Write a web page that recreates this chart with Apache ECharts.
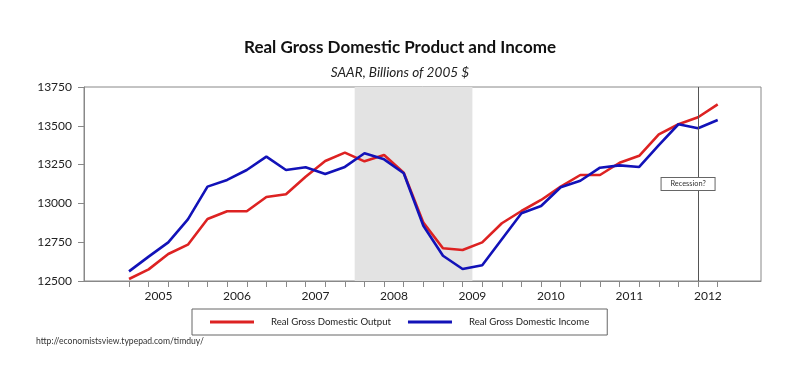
<!DOCTYPE html>
<html>
<head>
<meta charset="utf-8">
<script src="https://cdn.jsdelivr.net/npm/echarts@6/dist/echarts.min.js"></script>
<style>
html,body{margin:0;padding:0;background:#fff;}
#chart{width:800px;height:386px;}
</style>
</head>
<body>
<div id="chart"></div>
<script>
// Quarterly data 2005Q1 .. 2012Q3 (quarter index 0..30)
var quarterIndex = [0,1,2,3,4,5,6,7,8,9,10,11,12,13,14,15,16,17,18,19,20,21,22,23,24,25,26,27,28,29,30];
var gdpOutput = [12513,12575,12674,12734,12899,12949,12949,13041,13059,13172,13273,13327,13271,13312,13198,12876,12711,12700,12749,12872,12951,13022,13108,13183,13183,13262,13307,13445,13510,13555,13638];
var gdpIncome = [12562,12657,12749,12897,13108,13151,13215,13301,13215,13233,13189,13235,13323,13284,13194,12856,12663,12577,12601,12769,12936,12983,13104,13146,13230,13245,13235,13376,13510,13484,13537];
var yearLabels = ['2005','2006','2007','2008','2009','2010','2011','2012'];
var yearLabelPos = [1.5,5.5,9.5,13.5,17.5,21.5,25.5,29.5];
var yTicks = [12500,12750,13000,13250,13500,13750];
var recessionRange = [11.5, 17.5];
var markerQuarter = 29;

function pairs(xs, ys){ return xs.map(function(x,i){ return [x, ys[i]]; }); }

var chart = echarts.init(document.getElementById('chart'), null, {renderer:'canvas'});
var FONT = 'Lato';
var option = {
  animation: false,
  backgroundColor: '#fff',
  title: [
    {text: 'Real Gross Domestic Product and Income', left: 'center', top: 39, padding: 0,
     textStyle: {fontFamily: FONT, fontSize: 17, fontWeight: 'bold', color: '#111'}},
    {text: 'SAAR, Billions of 2005 $', left: 'center', top: 66, padding: 0,
     textStyle: {fontFamily: FONT, fontSize: 13.6, fontStyle: 'italic', fontWeight: 'normal', color: '#222'}},
    {text: 'http://economistsview.typepad.com/timduy/', left: 36, top: 337, padding: 0,
     textStyle: {fontFamily: FONT, fontSize: 8.6, fontWeight: 'normal', color: '#333'}}
  ],
  grid: {left: 84, right: 39, top: 87, bottom: 105, show: true, borderColor: '#888', borderWidth: 1},
  legend: {
    data: ['Real Gross Domestic Output', 'Real Gross Domestic Income'],
    left: 192, top: 309,
    padding: [8, 18],
    itemGap: 17,
    itemWidth: 44, itemHeight: 3,
    icon: 'rect',
    borderColor: '#666', borderWidth: 1,
    textStyle: {fontFamily: FONT, fontSize: 9.6, color: '#222', padding: [0,0,0,12]}
  },
  xAxis: {
    type: 'value', min: -2.294, max: 32.207,
    splitLine: {show: false},
    axisLine: {show: true, onZero: false, lineStyle: {color: '#888'}},
    axisTick: {show: true, length: 6, inside: false, lineStyle: {color: '#888'}, customValues: quarterIndex},
    axisLabel: {
      customValues: yearLabelPos,
      margin: 9,
      fontFamily: FONT, fontSize: 12, color: '#222',
      formatter: function(v){ var i = yearLabelPos.indexOf(v); return i >= 0 ? yearLabels[i] : ''; }
    }
  },
  yAxis: {
    type: 'value', min: 12500, max: 13750, interval: 250,
    splitLine: {show: false},
    axisLine: {show: true, onZero: false, lineStyle: {color: '#888'}},
    axisTick: {show: true, length: 6, lineStyle: {color: '#888'}},
    axisLabel: {margin: 12, fontFamily: FONT, fontSize: 12, color: '#222',
      formatter: function(v){ return String(v); }}
  },
  series: [
    {
      name: 'recession', type: 'line', data: [], z: 1, silent: true,
      markArea: {silent: true, itemStyle: {color: '#e3e3e3'},
        data: [[{xAxis: recessionRange[0]}, {xAxis: recessionRange[1]}]]},
      markLine: {silent: true, symbol: ['none','none'], label: {show: false},
        lineStyle: {color: '#555', width: 1, type: 'solid'},
        data: [{xAxis: markerQuarter}]}
    },
    {
      name: 'Real Gross Domestic Output', type: 'line', z: 3,
      data: pairs(quarterIndex, gdpOutput),
      showSymbol: false, symbol: 'none',
      lineStyle: {color: '#dd2222', width: 2.6},
      itemStyle: {color: '#dd2222'}
    },
    {
      name: 'Real Gross Domestic Income', type: 'line', z: 4,
      data: pairs(quarterIndex, gdpIncome),
      showSymbol: false, symbol: 'none',
      lineStyle: {color: '#1212b8', width: 2.6},
      itemStyle: {color: '#1212b8'},
      markPoint: {
        silent: true,
        symbol: 'circle', symbolSize: 0,
        label: {show: true, position: 'inside', formatter: 'Recession?', fontFamily: FONT, fontSize: 7.4, color: '#333',
          backgroundColor: '#fff', borderColor: '#666', borderWidth: 1,
          width: 53, height: 10, align: 'center', verticalAlign: 'middle', lineHeight: 10, padding: [1, 0]},
        data: [{coord: [28.49, 13125]}]
      }
    }
  ]
};
chart.setOption(option);
</script>
</body>
</html>
